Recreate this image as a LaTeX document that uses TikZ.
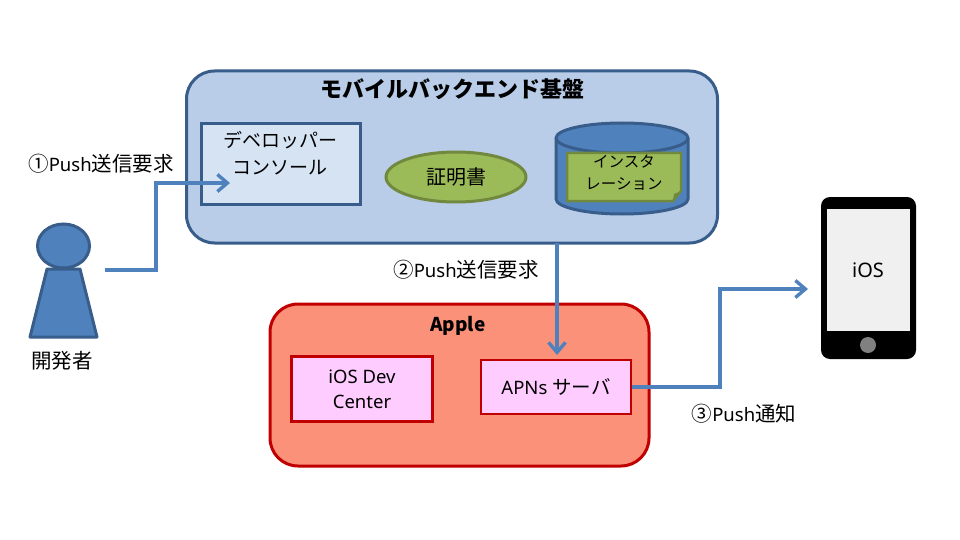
\documentclass[tikz,border=0pt]{standalone}
\usepackage{fontspec}
\setmainfont{Noto Sans CJK JP}
\newfontfamily\lat{Noto Sans}
\usetikzlibrary{arrows.meta,shapes.geometric,calc}
\definecolor{bfill}{HTML}{4F81BD}
\definecolor{bline}{HTML}{385D8A}
\definecolor{platform}{HTML}{B9CDE9}
\definecolor{console}{HTML}{D6E3F3}
\definecolor{olive}{HTML}{9BBB59}
\definecolor{oline}{HTML}{71893F}
\definecolor{applefill}{HTML}{FC917A}
\definecolor{redline}{HTML}{C00000}
\definecolor{pinkbox}{HTML}{FFCCFF}
\newcommand{\szj}{\fontsize{20.5}{27}\selectfont}
\newcommand{\szl}{\fontsize{18.5}{25}\selectfont}
\tikzset{
  x=1pt,y=-1pt,
  txt/.style={inner sep=0pt,align=center,font=\szj,text=black},
  boxsq/.style={draw=bline,line width=3pt,fill=console,inner sep=0pt,minimum width=159pt,minimum height=81pt},
  pink/.style={draw=redline,line width=2.5pt,fill=pinkbox,inner sep=0pt,align=center,font=\szl},
  group/.style={line width=3pt,rounded corners=28pt},
  flow/.style={draw=bfill,line width=3.4pt,-{Straight Barb[length=10pt,width=17pt,line width=3.4pt]}},
}
\begin{document}
\begin{tikzpicture}
\useasboundingbox (0,0) rectangle (960,540);
% platform
\node[draw=bline,fill=platform,group,minimum width=531pt,minimum height=172pt,inner sep=0pt] (platform) at (452,157) {};
\node[txt,font=\fontsize{22}{26}\selectfont\bfseries] (ptitle) at (452,89) {モバイルバックエンド基盤};
\node[boxsq] (console) at (281,164) {};
\node[txt,font=\fontsize{19}{27}\selectfont] (consoletext) at (280,153) {デベロッパー\\コンソール};
\node[draw=oline,line width=3pt,fill=olive,ellipse,minimum width=140pt,minimum height=50pt,inner sep=0pt,font=\fontsize{20}{24}\selectfont] (cert) at (456,177) {証明書};
% database
\path[draw=bline,fill=bfill,line width=3pt] (556,138) -- (556,199) arc[start angle=180,end angle=360,x radius=66pt,y radius=15pt] -- (688,138) arc[start angle=0,end angle=180,x radius=66pt,y radius=15pt] -- cycle;
\path[draw=bline,line width=3pt] (688,138) arc[start angle=0,end angle=-180,x radius=66pt,y radius=15pt];
\path[draw=oline,fill=olive,line width=2.5pt] (567,153) -- (681,153) -- (681,191) -- (673,201) -- (567,201) -- cycle;
\path[fill=oline] (681,191) -- (673,201) -- (674,194) -- cycle;
\node[txt,font=\fontsize{15.5}{22}\selectfont] (inst) at (624,173) {インスタ\\レーション};
% apple
\node[draw=redline,fill=applefill,group,minimum width=379pt,minimum height=162pt,inner sep=0pt] (apple) at (459.5,385) {};
\node[txt,font=\fontsize{19}{25}\selectfont\bfseries] (atitle) at (458,326) {Apple};
\node[pink,minimum width=141pt,minimum height=65pt] (dev) at (362,389) {\lat iOS Dev\\\lat Center};
\node[pink,minimum width=150pt,minimum height=54pt] (apns) at (556,387) {\lat APNs {\rmfamily\fontsize{19.5}{25}\selectfont サーバ}};
% person
\node[draw=bline,fill=bfill,line width=3pt,ellipse,minimum width=52pt,minimum height=44pt,inner sep=0pt] (head) at (63.5,246) {};
\path[draw=bline,fill=bfill,line width=3pt,line join=round] (47,269) -- (80,269) -- (97,337) -- (30,337) -- cycle;
\coordinate (person) at (105,270);
\node[txt] (dev2) at (62,361) {開発者};
% phone
\node[fill=black,rounded corners=9pt,minimum width=95pt,minimum height=162pt,inner sep=0pt] (phone) at (868.5,278) {};
\node[fill=black!6,minimum width=83pt,minimum height=122pt,inner sep=0pt,font=\fontsize{20}{24}\selectfont] (screen) at (868,270) {\lat iOS};
\node[circle,fill=black!50,minimum size=16pt,inner sep=0pt] (homebtn) at (868,345) {};
% connectors
\coordinate (consoleIn) at (230,183);
\coordinate (phoneIn) at (808,289);
\coordinate (platOut) at (557,243);
\coordinate (apnsIn) at (557,355);
\draw[flow] (person) -- (156,270) -- (156,183) -- (consoleIn);
\draw[flow] (platOut) -- (apnsIn);
\draw[flow] (apns.east) -- (720,387) -- (720,289) -- (phoneIn);
% labels
\node[txt] (l1) at (101,164) {①{\lat\szl Push}送信要求};
\node[txt] (l2) at (466,270) {②{\lat\szl Push}送信要求};
\node[txt] (l3) at (744,414) {③{\lat\szl Push}通知};
\end{tikzpicture}
\end{document}
